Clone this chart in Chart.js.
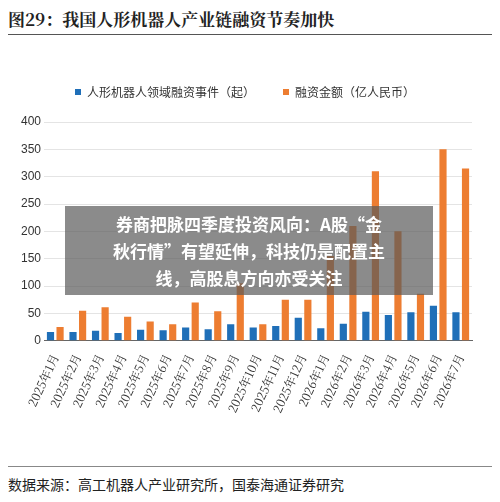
<!DOCTYPE html><html><head><meta charset="utf-8">
<script src="https://cdn.jsdelivr.net/npm/chart.js@4"></script>
<style>
body{margin:0;width:500px;height:502px;background:#fff;font-family:"Noto Sans CJK SC";position:relative;overflow:hidden}
#t{position:absolute;left:8px;top:6px;font-size:17px;font-weight:bold;font-family:"Noto Serif CJK SC","Noto Sans CJK SC";color:#222}
#l1{position:absolute;left:8px;top:34px;width:484px;border-top:1.5px solid #555}
#l2{position:absolute;left:8px;top:466px;width:484px;border-top:1px solid #888}
#f{position:absolute;left:8px;top:474px;font-size:14px;color:#222}
#c{position:absolute;left:0;top:58px;width:500px;height:360px}
#o{position:absolute;left:65px;top:206px;width:368px;height:89px;background:rgba(90,90,90,0.7);color:#fff;font-weight:bold;font-size:17px;line-height:27px;text-align:center;padding-top:4px;box-sizing:border-box;white-space:nowrap}
</style></head><body>
<div id="t">图29：我国人形机器人产业链融资节奏加快</div><div id="l1"></div>
<div id="c"><canvas id="cv"></canvas></div>
<div id="o">券商把脉四季度投资风向：A股“金<br>秋行情”有望延伸，科技仍是配置主<br>线，高股息方向亦受关注</div>
<div id="l2"></div><div id="f">数据来源：高工机器人产业研究所，国泰海通证券研究</div>
<script>
const categories=["2025年1月","2025年2月","2025年3月","2025年4月","2025年5月","2025年6月","2025年7月","2025年8月","2025年9月","2025年10月","2025年11月","2025年12月","2026年1月","2026年2月","2026年3月","2026年4月","2026年5月","2026年6月","2026年7月"];
const events=[16,16,18,14,20,19,24,21,30,24,27,42,23,31,53,47,52,64,52];
const amount=[25,55,61,44,35,30,70,54,105,30,75,75,155,210,310,200,86,350,315];
new Chart(document.getElementById('cv'),{type:'bar',data:{labels:categories,datasets:[
{label:'人形机器人领域融资事件（起）',data:events,backgroundColor:'#1f6fb8',barPercentage:0.75,categoryPercentage:0.85},
{label:'融资金额（亿人民币）',data:amount,backgroundColor:'#ed7d31',barPercentage:0.75,categoryPercentage:0.85}]},
options:{responsive:true,maintainAspectRatio:false,animation:false,
layout:{padding:{left:18,right:28,top:0,bottom:0}},
plugins:{legend:{labels:{boxWidth:6,boxHeight:6,font:{size:12,family:'Noto Sans CJK SC'},color:'#333',padding:28}},tooltip:{enabled:false}},
scales:{x:{grid:{display:false},border:{color:'#666'},ticks:{maxRotation:65,minRotation:65,font:{size:12,family:'Noto Serif CJK SC, Noto Sans CJK SC'},color:'#333'}},
y:{min:0,max:400,ticks:{stepSize:50,font:{size:12},color:'#333'},grid:{color:'#e4e4e4',drawTicks:false},border:{display:false}}}},
plugins:[{id:'lg',beforeInit(c){const f=c.legend.fit;c.legend.fit=function(){f.call(this);this.height+=14;};}}]});
</script></body></html>
